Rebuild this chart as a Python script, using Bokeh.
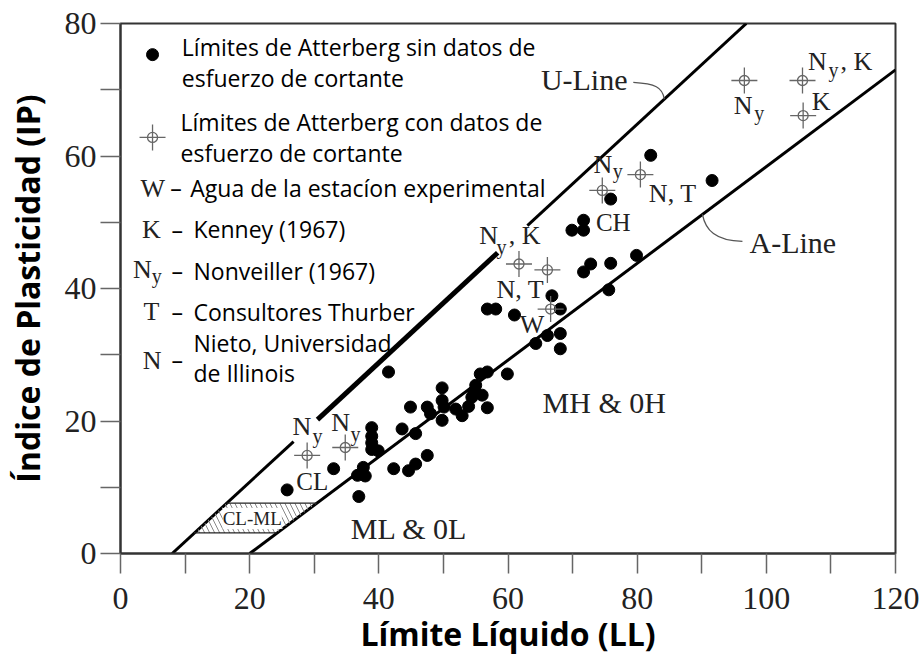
from bokeh.plotting import figure
from bokeh.models import Range1d, FixedTicker, Label
from bokeh.embed import file_html
from bokeh.resources import INLINE

# ---------------- data ----------------
# Atterberg limits without shear strength data (filled dots)
ll_sin = [25.8, 33.0, 36.9, 36.7, 37.9, 37.6, 38.9, 38.9, 38.9, 38.9, 39.9, 42.3, 44.6, 45.7,
          47.5, 43.6, 45.7, 44.9, 47.5, 48.0, 49.8, 49.8, 49.8, 50.1, 51.9, 52.9, 53.9, 54.4,
          55.0, 54.7, 56.0, 56.8, 55.7, 56.8, 59.9, 41.5, 64.3, 66.1, 68.1, 68.1, 56.8, 58.1,
          61.0, 68.1, 66.8, 69.9, 71.7, 71.7, 75.9, 82.1, 91.6, 72.8, 71.7, 75.9, 79.9, 75.6]
pi_sin = [9.6, 12.8, 8.6, 11.8, 11.7, 13.0, 19.0, 17.7, 16.7, 15.7, 15.5, 12.8, 12.5, 13.5,
          14.8, 18.8, 18.1, 22.1, 22.1, 21.1, 23.1, 25.0, 20.1, 22.1, 21.8, 20.8, 22.2, 23.6,
          25.4, 24.4, 23.9, 22.0, 27.1, 27.4, 27.1, 27.4, 31.7, 32.9, 33.2, 30.9, 36.9, 36.9,
          36.0, 36.9, 38.9, 48.8, 48.8, 50.3, 53.5, 60.1, 56.3, 43.7, 42.5, 43.8, 45.0, 39.8]

# Atterberg limits with shear strength data (crosshair markers)
ll_con = [28.9, 34.8, 61.7, 66.1, 66.6, 74.6, 80.5, 96.6, 105.6, 105.7]
pi_con = [14.8, 16.0, 43.7, 42.8, 36.9, 54.8, 57.2, 71.4, 71.4, 66.1]

# U-line pieces (drawn with gaps around labels)
u_low_ll, u_low_pi = [8.0, 26.8], [0.0, 16.9]
u_mid_ll, u_mid_pi = [30.5, 58.4], [20.2, 45.4]
u_up_ll, u_up_pi = [63.0, 96.9], [49.5, 80.0]
# A-line
a_ll, a_pi = [20.0, 120.0], [0.0, 73.0]
# CL-ML zone
clml_ll = [11.4, 24.2, 30.4, 16.4]
clml_pi = [3.1, 3.1, 7.6, 7.6]

x_ticks = [0, 20, 40, 60, 80, 100, 120]
x_minor = [10, 30, 50, 70, 90, 110]
y_ticks = [0, 20, 40, 60, 80]
y_minor = [10, 30, 50, 70]

SERIF = "Liberation Serif"
SANS = "Open Sans"

p = figure(width=920, height=659, x_range=Range1d(0, 120), y_range=Range1d(0, 80),
           output_backend="svg", toolbar_location=None,
           min_border_left=120, min_border_right=25, min_border_top=23, min_border_bottom=106)
p.background_fill_color = "white"
p.border_fill_color = "white"
p.grid.visible = False
p.outline_line_color = "#333333"
p.outline_line_width = 2

for ax, tk, mn in ((p.xaxis[0], x_ticks, x_minor), (p.yaxis[0], y_ticks, y_minor)):
    ax.ticker = FixedTicker(ticks=tk, minor_ticks=mn)
    ax.major_tick_out = 20
    ax.major_tick_in = 0
    ax.minor_tick_out = 20
    ax.minor_tick_in = 0
    ax.major_tick_line_color = "#666666"
    ax.minor_tick_line_color = "#666666"
    ax.major_tick_line_width = 1.5
    ax.minor_tick_line_width = 1.5
    ax.axis_line_color = "#333333"
    ax.axis_line_width = 2
    ax.major_label_text_font = SERIF
    ax.major_label_text_font_size = "32px"
    ax.major_label_text_color = "#222222"
    ax.axis_label_text_font = SANS
    ax.axis_label_text_font_style = "bold"
    ax.axis_label_text_color = "black"

p.xaxis.axis_label = "Límite Líquido (LL)"
p.yaxis.axis_label = "Índice de Plasticidad (IP)"
p.xaxis.axis_label_text_font_size = "32px"
p.yaxis.axis_label_text_font_size = "32px"
p.xaxis.major_label_standoff = 14
p.yaxis.major_label_standoff = 4
p.xaxis.axis_label_standoff = 0
p.yaxis.axis_label_standoff = 13

# ---- lines ----
p.line(u_low_ll, u_low_pi, line_color="black", line_width=3)
p.line(u_mid_ll, u_mid_pi, line_color="black", line_width=5)
p.line(u_up_ll, u_up_pi, line_color="black", line_width=3)
p.line(a_ll, a_pi, line_color="black", line_width=3)

# CL-ML zone
p.patch(clml_ll, clml_pi, fill_color=None, line_color=None,
        hatch_pattern="\\", hatch_color="#888888", hatch_scale=10, hatch_weight=1)
p.segment(x0=[clml_ll[0], clml_ll[3]], y0=[clml_pi[0], clml_pi[3]],
          x1=[clml_ll[1], clml_ll[2]], y1=[clml_pi[1], clml_pi[2]],
          line_color="#222222", line_width=1.2)

# leader curves
p.bezier(x0=[79.4], y0=[71.1], x1=[84.2], y1=[68.6], cx0=[82.8], cy0=[70.9], cx1=[83.9], cy1=[70.4],
         line_color="#555555", line_width=1.3)
p.bezier(x0=[90.1], y0=[51.2], x1=[96.3], y1=[47.1], cx0=[90.6], cy0=[48.8], cx1=[92.1], cy1=[47.2],
         line_color="#555555", line_width=1.3)

# ---- data ----
p.scatter(ll_sin, pi_sin, marker="circle", size=12, fill_color="black", line_color="black")
p.scatter(ll_con, pi_con, marker="cross", size=26, line_color="#666666", line_width=1.3)
p.scatter(ll_con, pi_con, marker="circle", size=10, fill_color=None, line_color="#666666", line_width=1.3)


def lab(x, y, t, font=SERIF, size=27, align="center", color="#222222", bg=None, style="normal"):
    p.add_layout(Label(x=x, y=y, text=t, text_font=font, text_font_size=f"{size}px",
                       text_align=align, text_baseline="middle", text_color=color,
                       background_fill_color=bg, text_font_style=style))


# region labels
lab(74.9, 22.8, "MH & 0H", size=30)
lab(44.7, 3.7, "ML & 0L", size=30)
lab(29.7, 10.9, "CL", size=25)
lab(76.3, 50.0, "CH", size=25)
lab(71.8, 71.5, "U-Line", size=30)
lab(104.1, 46.9, "A-Line", size=30)
lab(20.4, 5.3, "CL-ML", size=19, bg="white")


def ny(xn, yn, xy, yy, tail=None, xt=None):
    lab(xn, yn, "N", size=26)
    lab(xy, yy, "y", size=20)
    if tail:
        lab(xt, yn, tail, size=26, align="left")


ny(28.1, 19.2, 30.5, 17.7)
ny(34.1, 19.7, 36.4, 18.1)
ny(57.0, 48.0, 59.0, 46.3, ", K", 60.1)
lab(61.9, 39.8, "N, T", size=26)
lab(63.7, 34.6, "W", size=26)
ny(74.7, 58.7, 77.0, 57.7)
lab(85.5, 54.4, "N, T", size=26)
ny(96.4, 67.6, 98.9, 66.5)
ny(107.9, 74.3, 110.4, 73.0, ", K", 111.5)
lab(108.5, 68.2, "K", size=26)

# ---- legend block ----
p.scatter([4.96], [75.3], marker="circle", size=12, fill_color="black", line_color="black")
p.scatter([4.96], [62.8], marker="cross", size=26, line_color="#666666", line_width=1.3)
p.scatter([4.96], [62.8], marker="circle", size=10, fill_color=None, line_color="#666666", line_width=1.3)

LS = 23
lab(9.5, 76.4, "Límites de Atterberg sin datos de", font=SANS, size=LS, align="left", color="black")
lab(9.5, 71.8, "esfuerzo de cortante", font=SANS, size=LS, align="left", color="black")
lab(9.3, 65.1, "Límites de Atterberg con datos de", font=SANS, size=LS, align="left", color="black")
lab(9.3, 60.5, "esfuerzo de cortante", font=SANS, size=LS, align="left", color="black")

lab(5.0, 55.1, "W", size=26)
lab(8.6, 55.1, "–", font=SANS, size=LS, color="black")
lab(10.8, 55.1, "Agua de la estacíon experimental", font=SANS, size=LS, align="left", color="black")

lab(4.8, 48.9, "K", size=26)
lab(8.8, 48.9, "–", font=SANS, size=LS, color="black")
lab(11.3, 49.0, "Kenney (1967)", font=SANS, size=LS, align="left", color="black")

lab(3.4, 42.9, "N", size=26)
lab(5.6, 41.9, "y", size=20)
lab(8.8, 42.7, "–", font=SANS, size=LS, color="black")
lab(11.3, 42.7, "Nonveiller (1967)", font=SANS, size=LS, align="left", color="black")

lab(4.8, 36.6, "T", size=26)
lab(8.8, 36.4, "–", font=SANS, size=LS, color="black")
lab(11.3, 36.4, "Consultores Thurber", font=SANS, size=LS, align="left", color="black")

lab(4.9, 29.1, "N", size=26)
lab(8.8, 29.2, "–", font=SANS, size=LS, color="black")
lab(11.3, 31.7, "Nieto, Universidad", font=SANS, size=LS, align="left", color="black")
lab(11.3, 27.3, "de Illinois", font=SANS, size=LS, align="left", color="black")

open("out.html", "w").write(file_html(p, INLINE))
